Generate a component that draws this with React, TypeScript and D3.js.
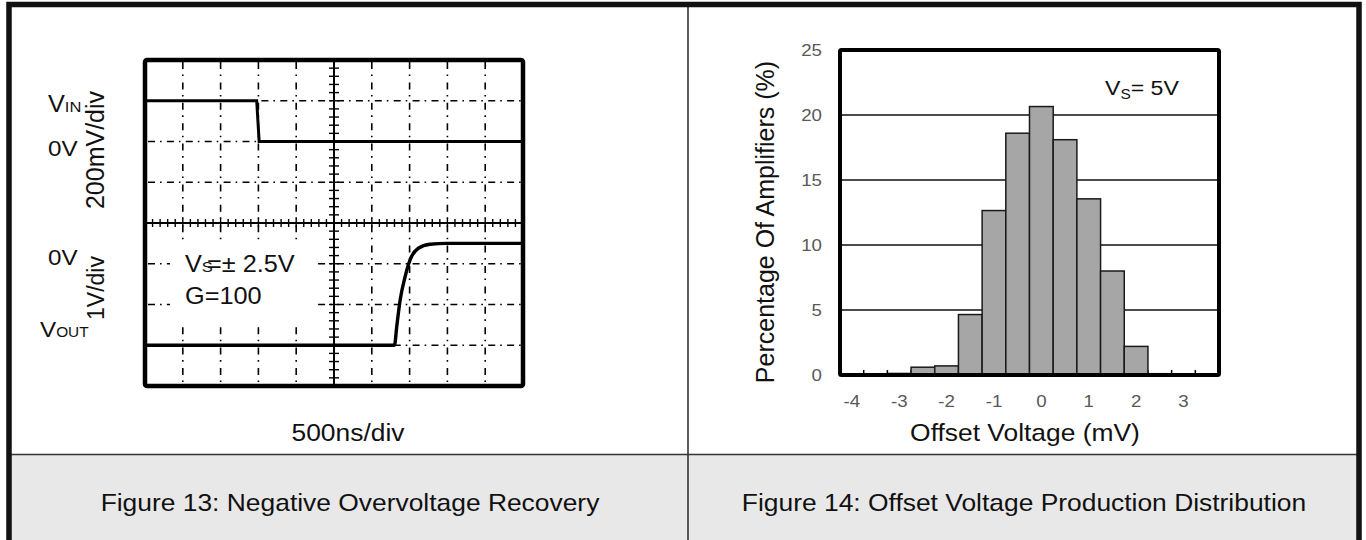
import React from "react";
import * as d3 from "d3";

const W = 1366;
const H = 540;
const FONT = "'Liberation Sans', Arial, Helvetica, sans-serif";
const SX = 1.1;

// ---- Figure 13: scope traces (time in divisions, level in divisions from bottom)
const vinTime = [0, 2.955, 3.02, 10];
const vinLevel = [7, 7, 6, 6];
const voutTime = [0, 6.6, 6.66, 6.75, 6.88, 7.01, 7.23, 7.54, 7.98, 10];
const voutLevel = [1.0, 1.0, 1.46, 2.11, 2.68, 3.09, 3.38, 3.48, 3.5, 3.5];
const scopeXDivs = 10;
const scopeYDivs = 8;

// ---- Figure 14: histogram
const binCenters = [-4, -3.5, -3, -2.5, -2, -1.5, -1, -0.5, 0, 0.5, 1, 1.5, 2, 2.5, 3, 3.5];
const binPercent = [0, 0, 0.12, 0.6, 0.7, 4.65, 12.65, 18.6, 20.65, 18.1, 13.55, 8.0, 2.2, 0.1, 0, 0];
const yTicks = [0, 5, 10, 15, 20, 25];
const xTickLabels = [-4, -3, -2, -1, 0, 1, 2, 3];

type TxtProps = {
  x: number;
  y: number;
  size: number;
  anchor?: "start" | "middle" | "end";
  sx?: number;
  rotate?: number;
  fill?: string;
  children?: React.ReactNode;
};

function Txt({ x, y, size, anchor = "start", sx = SX, rotate = 0, fill = "#111", children }: TxtProps) {
  return (
    <text
      transform={`translate(${x},${y}) rotate(${rotate}) scale(${sx},1)`}
      fontSize={size}
      textAnchor={anchor}
      fill={fill}
      fontFamily={FONT}
    >
      {children}
    </text>
  );
}

function Scope() {
  const x0 = 145, x1 = 523, y0 = 60, y1 = 386;
  const xs = d3.scaleLinear().domain([0, scopeXDivs]).range([x0, x1]);
  const ys = d3.scaleLinear().domain([0, scopeYDivs]).range([y1, y0]);
  const cx = xs(5);
  const cy = ys(4);
  const line = d3
    .line<number>()
    .x((d, i) => xs(vinTime[i]))
    .y((d) => ys(d));
  const vinPath = line(vinLevel) || "";
  const outLine = d3
    .line<number>()
    .x((d, i) => xs(voutTime[i]))
    .y((d) => ys(d))
    .curve(d3.curveMonotoneX);
  const voutPath = outLine(voutLevel) || "";

  const vGrid = d3.range(1, scopeXDivs).filter((d) => d !== 5);
  const hGrid = d3.range(1, scopeYDivs).filter((d) => d !== 4);
  const minorX = d3.range(0, scopeXDivs * 5 + 1).map((d) => d / 5);
  const minorY = d3.range(0, scopeYDivs * 5 + 1).map((d) => d / 5);

  return (
    <g>
      {vGrid.map((d) => (
        <line key={"v" + d} x1={xs(d)} x2={xs(d)} y1={y0} y2={y1} stroke="#000" strokeWidth={1.6} strokeDasharray="7 5.5 1.6 6.3" strokeDashoffset={-2} />
      ))}
      {hGrid.map((d) => (
        <line key={"h" + d} x1={x0} x2={x1} y1={ys(d)} y2={ys(d)} stroke="#000" strokeWidth={1.6} strokeDasharray="7 5 1.6 5.3" strokeDashoffset={-3} />
      ))}
      {/* white label box covering grid behind the annotation */}
      <rect x={170} y={243} width={148} height={79} fill="#fff" />
      <line x1={x0} x2={x1} y1={cy} y2={cy} stroke="#000" strokeWidth={2} />
      <line x1={cx} x2={cx} y1={y0} y2={y1} stroke="#000" strokeWidth={2} />
      {minorX.map((d) => (
        <line key={"mx" + d} x1={xs(d)} x2={xs(d)} y1={cy - 4} y2={cy + 4} stroke="#000" strokeWidth={1.4} />
      ))}
      {minorY.map((d) => (
        <line key={"my" + d} x1={cx - 5} x2={cx + 5} y1={ys(d)} y2={ys(d)} stroke="#000" strokeWidth={1.4} />
      ))}
      <path d={vinPath} fill="none" stroke="#000" strokeWidth={3} />
      <path d={voutPath} fill="none" stroke="#000" strokeWidth={3.4} />
      <rect x={x0} y={y0} width={x1 - x0} height={y1 - y0} fill="none" stroke="#000" strokeWidth={4.5} rx={2} />

      <Txt x={48} y={112} size={23}>
        V<tspan fontSize={15}>IN</tspan>
      </Txt>
      <Txt x={48} y={156} size={22}>0V</Txt>
      <Txt x={48} y={265} size={22}>0V</Txt>
      <Txt x={40} y={337} size={22}>
        V<tspan fontSize={14}>OUT</tspan>
      </Txt>
      <Txt x={104} y={150} size={25} anchor="middle" rotate={-90} sx={1}>200mV/div</Txt>
      <Txt x={104} y={288} size={23} anchor="middle" rotate={-90} sx={1}>1V/div</Txt>

      <Txt x={185} y={272} size={23}>
        V<tspan fontSize={15}>S</tspan>
      </Txt>
      <Txt x={207} y={272} size={23}>=± 2.5V</Txt>
      <Txt x={185} y={304} size={23}>G=100</Txt>

      <Txt x={348} y={441} size={24} anchor="middle">500ns/div</Txt>
    </g>
  );
}

function Histogram() {
  const left = 840, right = 1219, top = 50, bottom = 375;
  const xb = d3
    .scaleBand<number>()
    .domain(binCenters)
    .range([left, right])
    .paddingInner(0)
    .paddingOuter(0);
  const y = d3.scaleLinear().domain([0, 25]).range([bottom, top]);
  const bw = xb.bandwidth();
  const edges = d3.range(1, binCenters.length).map((i) => left + i * bw);

  return (
    <g>
      {yTicks
        .filter((t) => t > 0 && t < 25)
        .map((t) => (
          <line key={"g" + t} x1={left} x2={right} y1={y(t)} y2={y(t)} stroke="#111" strokeWidth={1.4} />
        ))}
      {edges.map((e, i) => (
        <line key={"t" + i} x1={e} x2={e} y1={bottom} y2={bottom - 5} stroke="#000" strokeWidth={1.5} />
      ))}
      {binCenters.map((c, i) =>
        binPercent[i] > 0 ? (
          <rect
            key={"b" + c}
            x={xb(c)}
            y={y(binPercent[i])}
            width={bw}
            height={bottom - y(binPercent[i])}
            fill="#a6a6a6"
            stroke="#1a1a1a"
            strokeWidth={1.5}
          />
        ) : null
      )}
      <rect x={left} y={top} width={right - left} height={bottom - top} fill="none" stroke="#000" strokeWidth={4} rx={1.5} />

      {yTicks.map((t) => (
        <Txt key={"yl" + t} x={822} y={y(t) + 6} size={17} anchor="end" fill="#595959">
          {String(t)}
        </Txt>
      ))}
      {xTickLabels.map((t) => (
        <Txt key={"xl" + t} x={(xb(t) as number) + bw / 2} y={407} size={17} anchor="middle" fill="#595959">
          {String(t)}
        </Txt>
      ))}
      <Txt x={774} y={222} size={25} anchor="middle" rotate={-90} sx={1}>
        Percentage Of Amplifiers (%)
      </Txt>
      <Txt x={1025} y={441} size={24} anchor="middle">Offset Voltage (mV)</Txt>
      <Txt x={1105} y={95} size={21}>
        V<tspan fontSize={14} dy={4}>S</tspan>
        <tspan dy={-4}>= 5V</tspan>
      </Txt>
    </g>
  );
}

export default function App() {
  return (
    <svg width={W} height={H} viewBox={`0 0 ${W} ${H}`} style={{ position: "absolute", left: 0, top: 0, background: "#fff" }}>
      <rect x={0} y={0} width={W} height={H} fill="#fff" />
      <rect x={9} y={455} width={1350} height={H - 455} fill="#e8e8e8" />
      <line x1={9} x2={1359} y1={454.5} y2={454.5} stroke="#333" strokeWidth={1.6} />
      <line x1={688} x2={688} y1={4} y2={H} stroke="#333" strokeWidth={1.6} />
      <rect x={9} y={4.5} width={1350} height={H + 20} fill="none" stroke="#111" strokeWidth={5.5} />
      <Scope />
      <Histogram />
      <Txt x={350} y={511} size={24} anchor="middle">Figure 13: Negative Overvoltage Recovery</Txt>
      <Txt x={1024} y={511} size={24} anchor="middle">Figure 14: Offset Voltage Production Distribution</Txt>
    </svg>
  );
}
